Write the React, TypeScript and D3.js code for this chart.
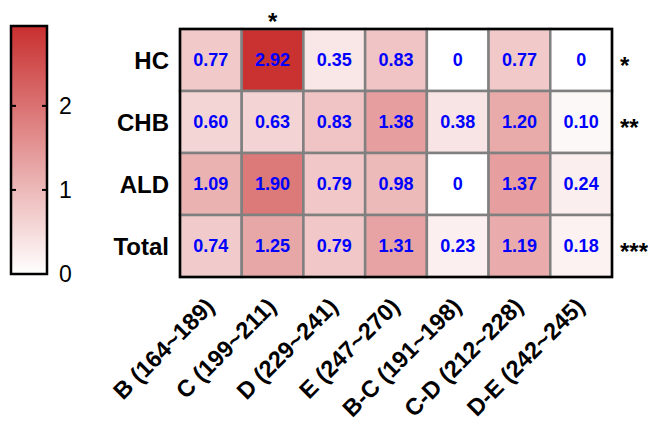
import { useRef, useEffect } from 'react';
import * as d3 from 'd3';

const rowLabels = ['HC', 'CHB', 'ALD', 'Total'];
const colLabels = ['B (164~189)', 'C (199~211)', 'D (229~241)', 'E (247~270)', 'B-C (191~198)', 'C-D (212~228)', 'D-E (242~245)'];
const hcValues = [0.77, 2.92, 0.35, 0.83, 0, 0.77, 0];
const chbValues = [0.6, 0.63, 0.83, 1.38, 0.38, 1.2, 0.1];
const aldValues = [1.09, 1.9, 0.79, 0.98, 0, 1.37, 0.24];
const totalValues = [0.74, 1.25, 0.79, 1.31, 0.23, 1.19, 0.18];
const rowStars = ['*', '**', '', '***'];
const colStars = ['', '*', '', '', '', '', ''];
const colorTicks = [0, 1, 2];
const colorMax = 2.95;

const FONT = 'Liberation Sans, Arial, sans-serif';

export default function App() {
  const ref = useRef<SVGSVGElement>(null);

  useEffect(() => {
    if (!ref.current) return;
    const svg = d3.select(ref.current);
    svg.selectAll('*').remove();

    const matrix = [hcValues, chbValues, aldValues, totalValues];
    const cells = matrix.flatMap((vals, r) => vals.map((v, c) => ({ r, c, v })));

    const x = d3.scaleBand<number>().domain(d3.range(colLabels.length)).range([180, 612]);
    const y = d3.scaleBand<number>().domain(d3.range(rowLabels.length)).range([29, 277]);
    const color = d3.scaleLinear<string>().domain([0, colorMax]).range(['#ffffff', '#c92f2f']).interpolate(d3.interpolateRgb);

    // colour bar
    const cb = { x: 11, w: 36 };
    const cy = d3.scaleLinear().domain([0, colorMax]).range([274, 26]);
    const defs = svg.append('defs');
    const grad = defs.append('linearGradient').attr('id', 'cbgrad').attr('x1', 0).attr('x2', 0).attr('y1', 1).attr('y2', 0);
    d3.range(0, 1.01, 0.1).forEach(t => {
      grad.append('stop').attr('offset', t).attr('stop-color', color(t * colorMax));
    });
    svg.append('rect')
      .attr('x', cb.x).attr('y', cy(colorMax))
      .attr('width', cb.w).attr('height', cy(0) - cy(colorMax))
      .attr('fill', 'url(#cbgrad)')
      .attr('stroke', '#000').attr('stroke-width', 2.5);
    const tg = svg.append('g');
    colorTicks.forEach(t => {
      if (t > 0) {
        tg.append('line').attr('x1', cb.x).attr('x2', cb.x + 5).attr('y1', cy(t)).attr('y2', cy(t)).attr('stroke', '#000').attr('stroke-width', 2);
        tg.append('line').attr('x1', cb.x + cb.w - 5).attr('x2', cb.x + cb.w).attr('y1', cy(t)).attr('y2', cy(t)).attr('stroke', '#000').attr('stroke-width', 2);
      }
      tg.append('text')
        .attr('x', 59).attr('y', cy(t)).attr('dy', '0.36em')
        .attr('font-family', FONT).attr('font-size', 23)
        .text(t);
    });

    // heatmap cells
    svg.append('g')
      .selectAll('rect')
      .data(cells)
      .join('rect')
      .attr('x', d => x(d.c)!)
      .attr('y', d => y(d.r)!)
      .attr('width', x.bandwidth())
      .attr('height', y.bandwidth())
      .attr('fill', d => color(d.v))
      .attr('stroke', '#808080')
      .attr('stroke-width', 2.5);

    svg.append('g')
      .selectAll('text')
      .data(cells)
      .join('text')
      .attr('x', d => x(d.c)! + x.bandwidth() / 2)
      .attr('y', d => y(d.r)! + y.bandwidth() / 2)
      .attr('dy', '0.36em')
      .attr('text-anchor', 'middle')
      .attr('font-family', FONT).attr('font-weight', 'bold').attr('font-size', 18)
      .attr('fill', '#0000ff')
      .text(d => (d.v === 0 ? '0' : d.v.toFixed(2)));

    svg.append('rect')
      .attr('x', 180).attr('y', 29).attr('width', 432).attr('height', 248)
      .attr('fill', 'none').attr('stroke', '#000').attr('stroke-width', 2.5);

    // row labels and stars
    svg.append('g')
      .selectAll('text')
      .data(rowLabels)
      .join('text')
      .attr('x', 169)
      .attr('y', (_, i) => y(i)! + y.bandwidth() / 2)
      .attr('dy', '0.36em')
      .attr('text-anchor', 'end')
      .attr('font-family', FONT).attr('font-weight', 'bold').attr('font-size', 24)
      .text(d => d);

    svg.append('g')
      .selectAll('text')
      .data(rowStars)
      .join('text')
      .attr('x', 620)
      .attr('y', (_, i) => y(i)! + y.bandwidth() / 2 + 14)
      .attr('font-family', FONT).attr('font-weight', 'bold').attr('font-size', 24)
      .text(d => d);

    svg.append('g')
      .selectAll('text')
      .data(colStars)
      .join('text')
      .attr('x', (_, i) => x(i)! + x.bandwidth() / 2)
      .attr('y', 30)
      .attr('text-anchor', 'middle')
      .attr('font-family', FONT).attr('font-weight', 'bold').attr('font-size', 24)
      .text(d => d);

    // column labels
    svg.append('g')
      .selectAll('text')
      .data(colLabels)
      .join('text')
      .attr('transform', (_, i) => `translate(${x(i)! + x.bandwidth() / 2 + 5},${308}) rotate(-45)`)
      .attr('text-anchor', 'end')
      .attr('font-family', FONT).attr('font-weight', 'bold').attr('font-size', 23.5)
      .text(d => d);
  }, []);

  return <svg ref={ref} width={648} height={422} style={{ position: 'absolute', left: 0, top: 0, background: '#fff' }} />;
}
